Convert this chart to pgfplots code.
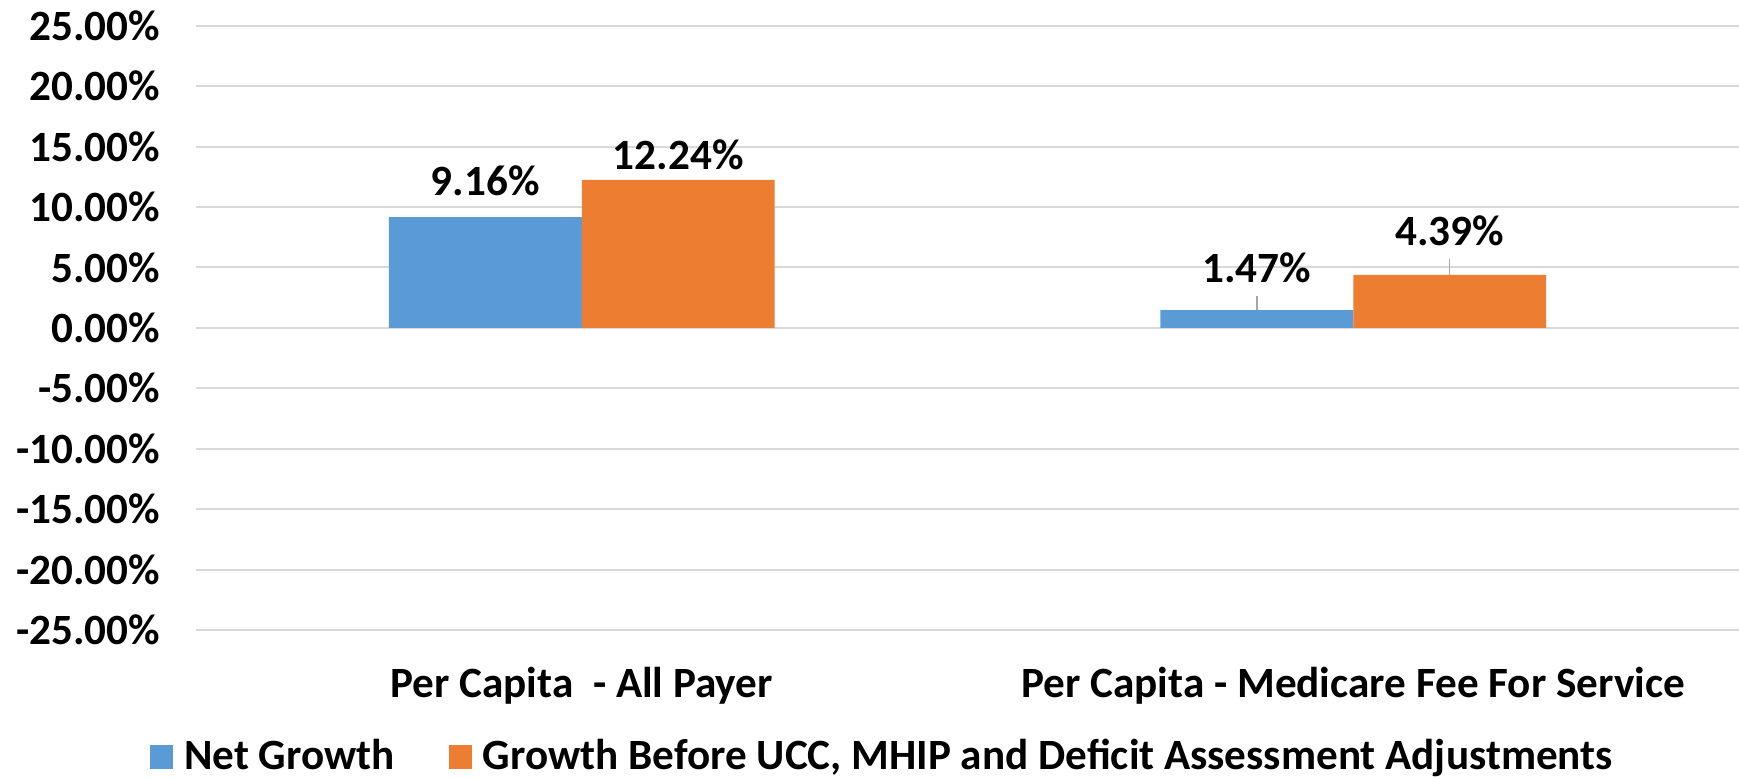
\documentclass[border=0pt]{standalone}
\usepackage{fontspec}
\setmainfont{Carlito}
\usepackage{pgfplots}
\usepackage{pgfplotstable}
\pgfplotsset{compat=1.18}
\pgfplotsset{/pgf/number format/assume math mode=true}

\definecolor{netblue}{HTML}{5B9BD5}
\definecolor{adjorange}{HTML}{ED7D31}
\definecolor{gridgray}{HTML}{D9D9D9}
\definecolor{leadgray}{HTML}{A6A6A6}

\pgfplotsset{sqlegend/.style={legend image code/.code={\fill[##1] (0pt,0.3pt) rectangle (11.5pt,12.3pt);}}}

% x: category index, gap: label offset above bar (pt), lead: leader line length (%)
\pgfplotstableread{
x y gap lead
0 9.16 10.3 0
1 1.47 13.3 1.16
}\netgrowth
\pgfplotstableread{
x y gap lead
0 12.24 4.8 0
1 4.39 14.3 1.32
}\beforeadj

\begin{document}
\fontsize{21.6}{26}\selectfont\bfseries
\begin{tikzpicture}
\useasboundingbox (-98pt,-74.5pt) rectangle (771.5pt,315pt);
\begin{axis}[
  scale only axis,
  width=771.5pt, height=302.15pt,
  ybar=0pt, bar width=0.25,
  xmin=-0.5, xmax=1.5,
  ymin=-25, ymax=25,
  xtick={0,1},
  xticklabels={{Per Capita\ \ - All Payer},{Per Capita - Medicare Fee For Service}},
  ytick={-25,-20,...,25},
  yticklabel={\pgfmathprintnumber[fixed,fixed zerofill,precision=2]{\tick}\%},
  xticklabel style={anchor=base, inner sep=0pt, yshift=-34pt},
  yticklabel style={anchor=east, inner sep=0pt, xshift=-17.7pt},
  major tick length=0pt,
  axis x line=bottom, axis y line=left,
  axis line style={draw=none},
  ymajorgrids,
  major grid style={draw=gridgray, line width=1pt},
  clip=false,
  nodes near coords={\pgfmathprintnumber[fixed,fixed zerofill,precision=2]{\pgfplotspointmeta}\%},
  visualization depends on={\thisrow{gap} \as \gap},
  every node near coord/.append style={anchor=south, inner sep=0pt, yshift=\gap, text=black},
  legend columns=2,
  legend style={at={(0.4443,-0.211)}, anchor=center, draw=none, fill=none,
    /tikz/every odd column/.append style={column sep=5.5pt},
    /tikz/every even column/.append style={column sep=27pt},
    nodes={inner sep=0pt, anchor=base west}},
]
\addplot[sqlegend, fill=netblue, draw=none,
  error bars/.cd, y dir=plus, y explicit, error mark=none,
  error bar style={draw=leadgray, line width=0.7pt}]
  table[x=x, y=y, y error=lead] {\netgrowth};
\addplot[sqlegend, fill=adjorange, draw=none,
  error bars/.cd, y dir=plus, y explicit, error mark=none,
  error bar style={draw=leadgray, line width=0.7pt}]
  table[x=x, y=y, y error=lead] {\beforeadj};
\legend{Net Growth, {Growth Before UCC, MHIP and Deficit Assessment Adjustments}}
\end{axis}
\end{tikzpicture}
\end{document}
